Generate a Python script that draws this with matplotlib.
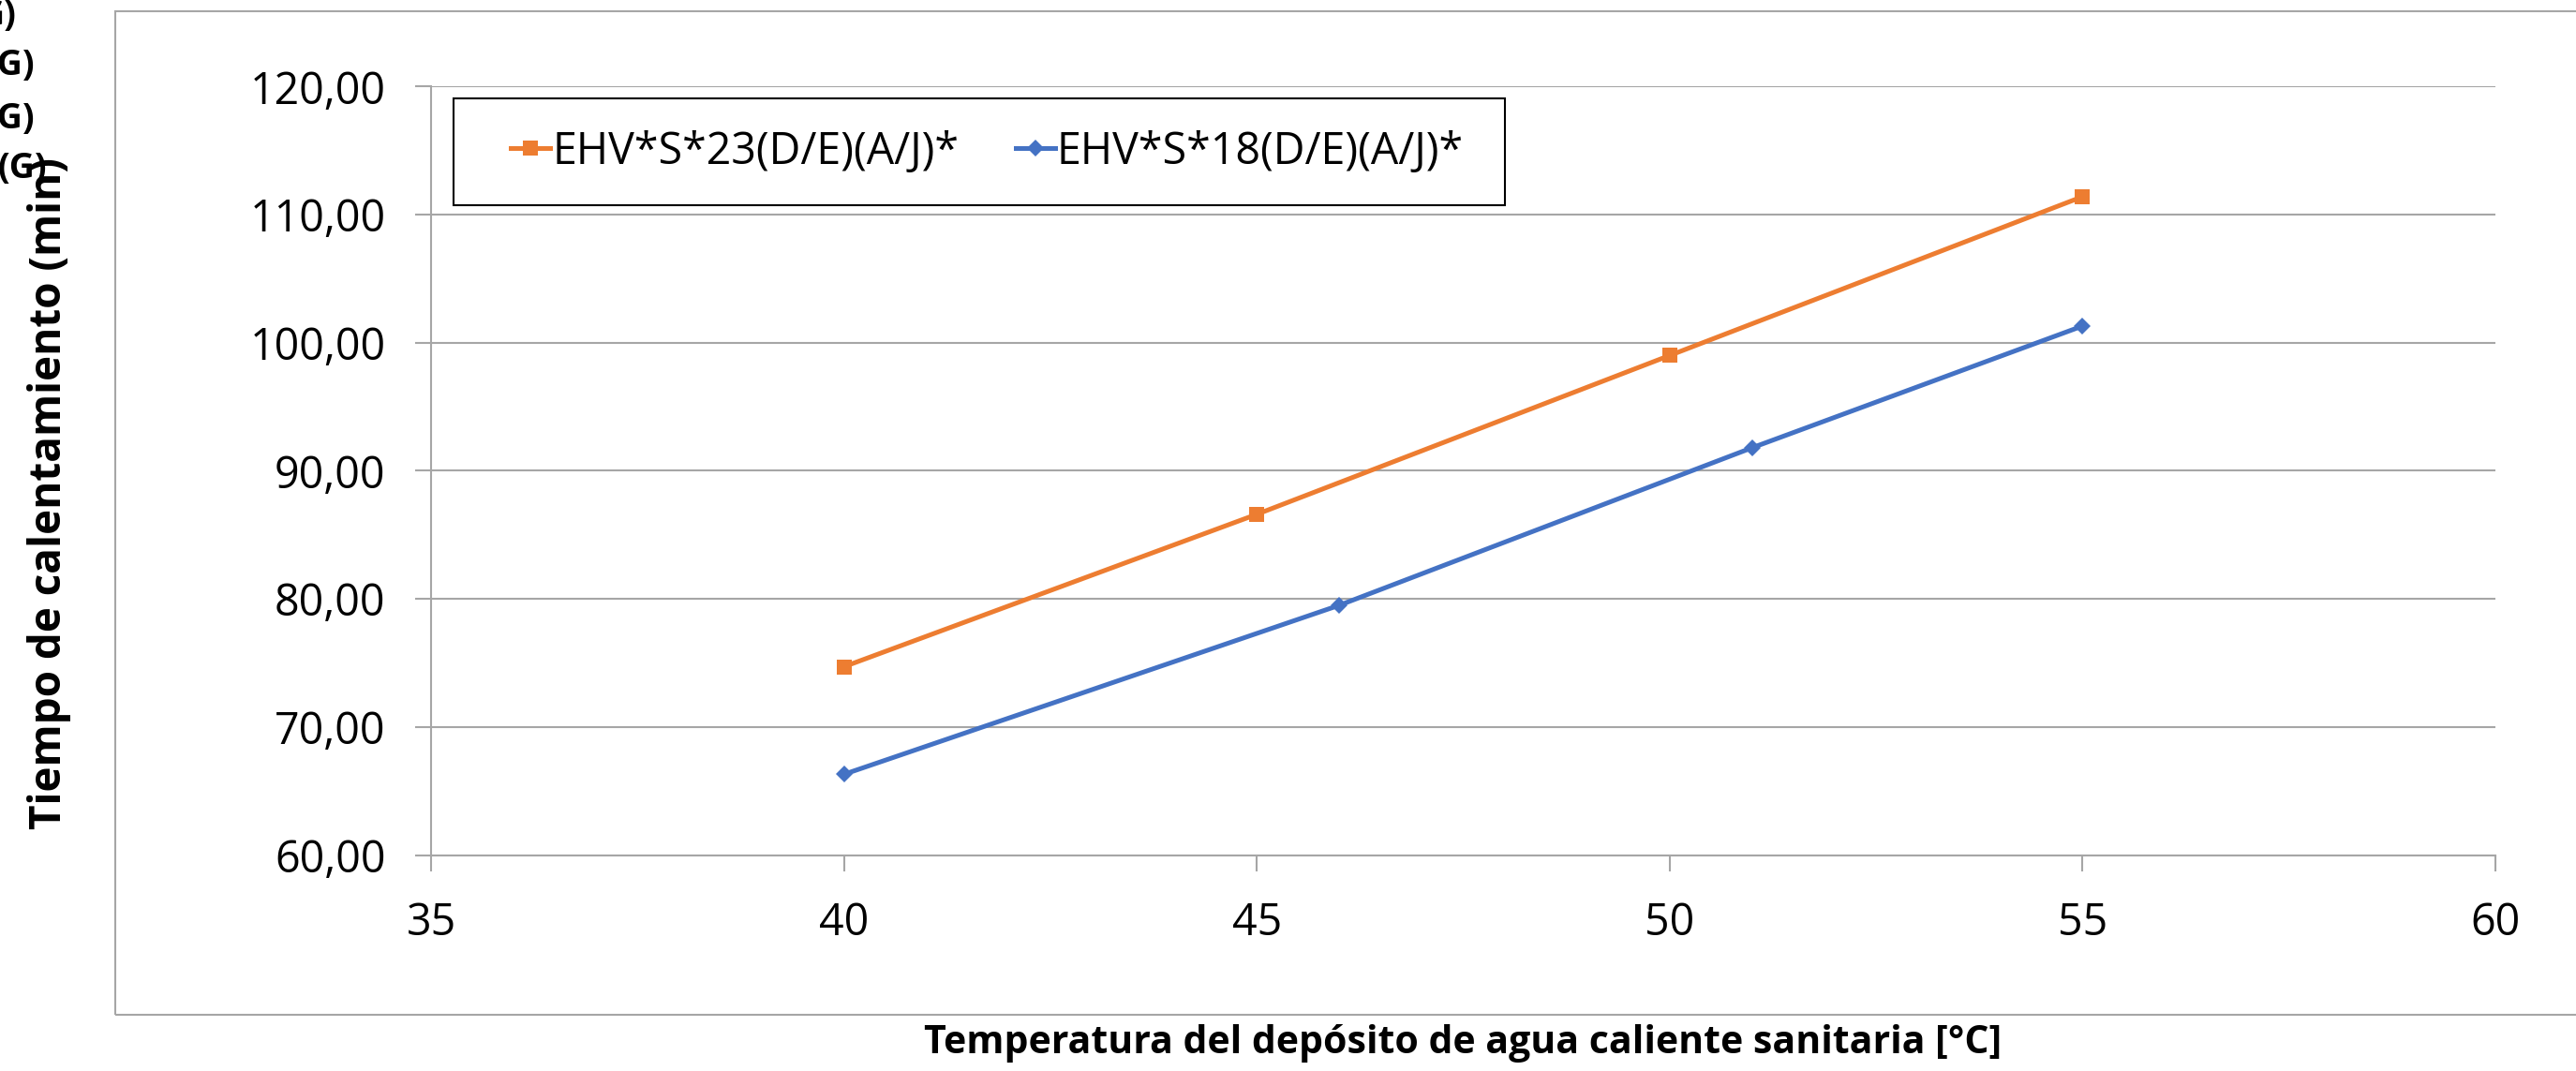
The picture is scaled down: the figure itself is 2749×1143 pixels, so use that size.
import matplotlib
matplotlib.use("Agg")
import matplotlib.pyplot as plt
from matplotlib.patches import Rectangle

# datos
temp_23 = [40, 45, 50, 55]
tiempo_23 = [74.7, 86.6, 99.0, 111.4]
temp_18 = [40, 46, 51, 55]
tiempo_18 = [66.3, 79.5, 91.8, 101.3]

label_23 = "EHV*S*23(D/E)(A/J)*"
label_18 = "EHV*S*18(D/E)(A/J)*"

x_ticks = [35, 40, 45, 50, 55, 60]
y_ticks = [60, 70, 80, 90, 100, 110, 120]
y_tick_labels = ["60,00", "70,00", "80,00", "90,00", "100,00", "110,00", "120,00"]

# restos de texto cortados arriba a la izquierda
restos = ["G)", "(G)", "(G)", "(G)"]

W, H = 2749, 1143
GRIS = "#a6a6a6"
NARANJA = "#ED7D31"
AZUL = "#4472C4"

plt.rcParams['font.family'] = ['Open Sans', 'DejaVu Sans']

fig = plt.figure(figsize=(W / 100, H / 100), dpi=100)

# borde exterior del grafico (se sale por la derecha)
borde = Rectangle((123 / W, 1 - 1083 / H), 2.0, (1083 - 12) / H,
                  transform=fig.transFigure, fill=False, ec=GRIS, lw=1.5)
fig.add_artist(borde)

ax = fig.add_axes([460 / W, 1 - 912.5 / H, (2663 - 460) / W, (912.5 - 92.3) / H])

ax.plot(temp_23, tiempo_23, color=NARANJA, lw=3.6, marker='s', ms=11.5,
        mec=NARANJA, mew=0, label=label_23, zorder=3)
ax.plot(temp_18, tiempo_18, color=AZUL, lw=3.6, marker='D', ms=9,
        mec=AZUL, mew=0, label=label_18, zorder=3)

ax.set_xlim(35, 60)
ax.set_ylim(60, 120)
ax.set_xticks(x_ticks)
ax.set_yticks(y_ticks)
ax.set_yticklabels(y_tick_labels)

ax.grid(axis='y', color=GRIS, lw=1.5)
ax.set_axisbelow(True)
for lado in ['top', 'right']:
    ax.spines[lado].set_visible(False)
for lado in ['left', 'bottom']:
    ax.spines[lado].set_color(GRIS)
    ax.spines[lado].set_linewidth(1.5)
ax.tick_params(direction='out', length=12, width=1.5, color=GRIS,
               pad=23, labelsize=33.5, labelcolor='black')

ax.set_xlabel("Temperatura del depósito de agua caliente sanitaria [°C]",
              fontsize=29.5, fontweight='bold', va='center')
ax.xaxis.set_label_coords(0.5, -0.245)
ax.set_ylabel("Tiempo de calentamiento (min)", fontsize=33,
              fontweight='bold', va='center')
ax.yaxis.set_label_coords(-0.1848, 0.471)

# caja de la leyenda dibujada a mano
caja = Rectangle((484 / W, 1 - 219 / H), (1606 - 484) / W, (219 - 105) / H,
                 transform=fig.transFigure, fill=True, fc='white', ec='black',
                 lw=1.5, zorder=5, clip_on=False)
ax.add_artist(caja)
leg = ax.legend(loc='center left', bbox_to_anchor=(545 / W, 1 - 162 / H),
                bbox_transform=fig.transFigure, ncol=2, frameon=False,
                fontsize=33.5, borderpad=0, borderaxespad=0,
                handlelength=0.9, handletextpad=0.05, columnspacing=1.3)
leg.set_zorder(6)

filas_y = [17, 70, 127, 180]
filas_x = [18, 37, 37, 50]
for txt, px, py in zip(restos, filas_x, filas_y):
    fig.text(px / W, 1 - py / H, txt, ha='right', va='center',
             fontsize=27, fontweight='bold')

fig.savefig("out.png", dpi=100)
